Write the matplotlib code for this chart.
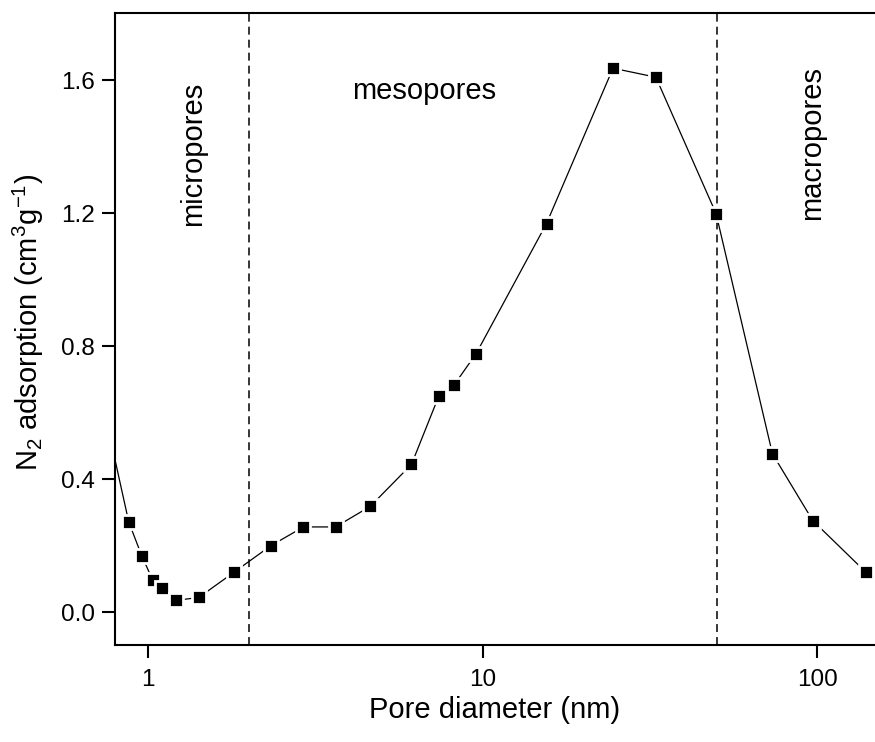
import matplotlib
matplotlib.use("Agg")
import matplotlib.pyplot as plt
from matplotlib.ticker import FixedLocator, FixedFormatter, NullLocator

plt.rcParams["font.family"] = ["Liberation Sans", "DejaVu Sans"]
plt.rcParams["mathtext.fontset"] = "custom"
plt.rcParams["mathtext.rm"] = "Liberation Sans"
plt.rcParams["mathtext.it"] = "Liberation Sans:italic"
plt.rcParams["mathtext.bf"] = "Liberation Sans:bold"

# pore size distribution
pore_d = [0.75, 0.874, 0.956, 1.031, 1.10, 1.207, 1.416, 1.805, 2.32, 2.91, 3.63,
          4.61, 6.12, 7.39, 8.22, 9.55, 15.5, 24.5, 32.9, 49.8, 73.4, 96.9, 139.6]
n2_ads = [0.575, 0.272, 0.170, 0.097, 0.073, 0.036, 0.045, 0.121, 0.200, 0.257, 0.257,
          0.319, 0.445, 0.651, 0.685, 0.778, 1.169, 1.636, 1.609, 1.199, 0.477, 0.276, 0.121]

region_bounds = [2, 50]
x_ticks = [1, 10, 100]
x_tick_labels = ["1", "10", "100"]
y_ticks = [0.0, 0.4, 0.8, 1.2, 1.6]

fig = plt.figure(figsize=(8.75, 7.42), dpi=100)
ax = fig.add_axes([0.1314, 0.1307, 0.8686, 0.8518])

ax.plot(pore_d, n2_ads, color="black", lw=0.9, marker="s", ms=10.5,
        mfc="black", mec="white", mew=2.0, zorder=2.4)

for xb in region_bounds:
    ax.axvline(xb, color="black", lw=1.1, ls=(0, (5.2, 3.3)), zorder=2)

ax.set_xscale("log")
ax.set_xlim(0.795, 148.7)
ax.set_ylim(-0.098, 1.802)

ax.xaxis.set_major_locator(FixedLocator(x_ticks))
ax.xaxis.set_major_formatter(FixedFormatter(x_tick_labels))
ax.xaxis.set_minor_locator(NullLocator())
ax.set_yticks(y_ticks)
ax.set_yticklabels([f"{v:.1f}" for v in y_ticks])

for s in ("left", "bottom", "top"):
    ax.spines[s].set_linewidth(1.5)
ax.spines["right"].set_visible(False)
ax.tick_params(axis="both", which="major", direction="out", length=9.4, width=1.5,
               labelsize=17.5, top=False, right=False)
ax.tick_params(axis="y", pad=5)
ax.tick_params(axis="x", pad=8)

ax.set_xlabel("Pore diameter (nm)", fontsize=21)
ax.set_ylabel(r"N$_2$ adsorption (cm$^3$g$^{-1}$)", fontsize=21)
ax.xaxis.set_label_coords(0.5, -0.081)
ax.yaxis.set_label_coords(-0.0908, 0.51)

ax.text(1.36, 1.378, "micropores", rotation=90, fontsize=21, ha="center", va="center")
ax.text(6.66, 1.543, "mesopores", fontsize=21, ha="center", va="baseline")
ax.text(96.4, 1.41, "macropores", rotation=90, fontsize=21, ha="center", va="center")

fig.savefig("out.png", dpi=100)
